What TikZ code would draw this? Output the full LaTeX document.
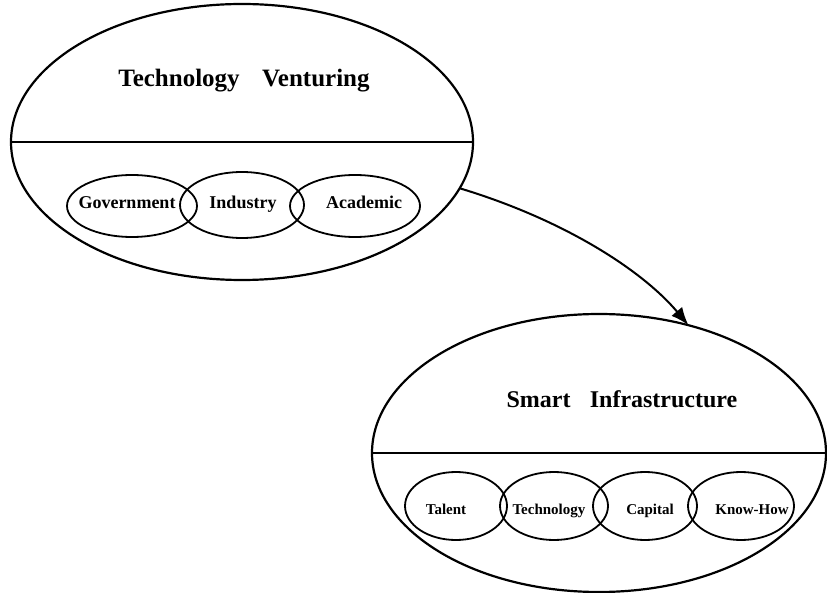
\documentclass[tikz,border=0pt]{standalone}
\usepackage{fontspec}
\setmainfont{Liberation Serif}
\usetikzlibrary{shapes.geometric,arrows.meta}
\begin{document}
\begin{tikzpicture}[x=1pt,y=-1pt,
  bigell/.style={draw, ellipse, line width=2.2pt, inner sep=0pt, outer sep=0pt},
  smallell/.style={draw, ellipse, line width=1.8pt, inner sep=0pt, outer sep=0pt},
  titletext/.style={font=\bfseries\fontsize{24}{28}\selectfont, anchor=base, inner sep=0pt},
  toplbl/.style={font=\bfseries\fontsize{18}{20}\selectfont, anchor=base, inner sep=0pt},
  botlbl/.style={font=\bfseries\fontsize{15}{17}\selectfont, anchor=base, inner sep=0pt},
  flow/.style={line width=2pt, -{Latex[length=18pt,width=14pt]}}
]
\fill[white] (0,0) rectangle (827,593);
\useasboundingbox (0,0) rectangle (827,593);

% top ellipse
\node[bigell, minimum width=462pt, minimum height=276pt] (top) at (242,142) {};
\draw[line width=2pt] (top.west) -- (top.east);
\node[titletext, font=\bfseries\fontsize{25}{29}\selectfont] (toptitle) at (244,87) {Technology\hspace{0.9em}Venturing};

\node[smallell, minimum width=130pt, minimum height=62pt] (gov) at (132,206) {};
\node[smallell, minimum width=124pt, minimum height=66pt] (ind) at (242,205) {};
\node[smallell, minimum width=130pt, minimum height=62pt] (aca) at (355,206) {};
\node[toplbl] (govt) at (127,209) {Government};
\node[toplbl] (indt) at (243,209) {Industry};
\node[toplbl] (acat) at (364,209) {Academic};

% bottom ellipse
\node[bigell, minimum width=454pt, minimum height=278pt] (bot) at (599,453) {};
\draw[line width=2pt] (bot.west) -- (bot.east);
\node[titletext] (bottitle) at (622,407) {Smart\hspace{0.8em}Infrastructure};

\node[smallell, minimum width=102pt, minimum height=68pt] (tal) at (456,506) {};
\node[smallell, minimum width=108pt, minimum height=68pt] (tec) at (554,506) {};
\node[smallell, minimum width=104pt, minimum height=68pt] (cap) at (645,506) {};
\node[smallell, minimum width=106pt, minimum height=68pt] (kno) at (741,506) {};
\node[botlbl] (talt) at (446,514) {Talent};
\node[botlbl] (tect) at (549,514) {Technology};
\node[botlbl] (capt) at (650,514) {Capital};
\node[botlbl] (knot) at (752,514) {Know-How};

% arrow
\draw[flow] (top.-12) .. controls (565,220) and (643,271) .. (bot.55);
\end{tikzpicture}
\end{document}
